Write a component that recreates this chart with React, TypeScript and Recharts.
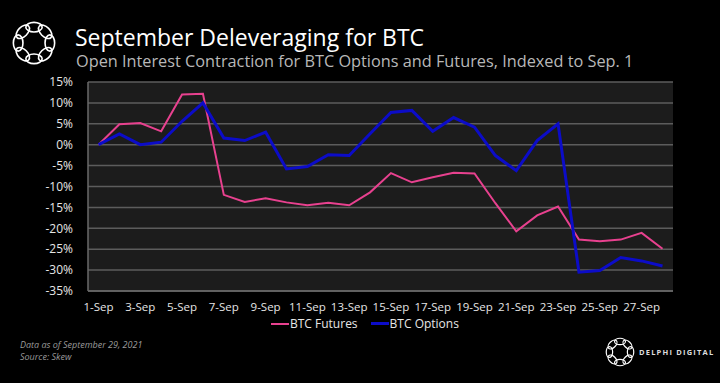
import React from 'react';
import {
  LineChart,
  Line,
  XAxis,
  YAxis,
  CartesianGrid,
} from 'recharts';

// 날짜 카테고리 (1-Sep ~ 28-Sep)
const days = [
  '1-Sep', '2-Sep', '3-Sep', '4-Sep', '5-Sep', '6-Sep', '7-Sep',
  '8-Sep', '9-Sep', '10-Sep', '11-Sep', '12-Sep', '13-Sep', '14-Sep',
  '15-Sep', '16-Sep', '17-Sep', '18-Sep', '19-Sep', '20-Sep', '21-Sep',
  '22-Sep', '23-Sep', '24-Sep', '25-Sep', '26-Sep', '27-Sep', '28-Sep',
];

const futures = [
  0, 4.9, 5.2, 3.2, 12.0, 12.2, -12.0,
  -13.7, -12.8, -13.8, -14.5, -13.9, -14.5, -11.4,
  -6.8, -9.0, -7.8, -6.7, -6.9, -14.0, -20.7,
  -16.9, -14.8, -22.7, -23.1, -22.7, -21.1, -24.9,
];

const options = [
  0, 2.6, 0, 0.6, 5.6, 10.0, 1.6,
  1.0, 3.0, -5.8, -5.2, -2.4, -2.6, 2.6,
  7.7, 8.2, 3.2, 6.5, 4.2, -2.6, -6.2,
  1.0, 5.0, -30.5, -30.1, -27.0, -27.8, -29.0,
];

const yTicks = [15, 10, 5, 0, -5, -10, -15, -20, -25, -30, -35];

const PINK = '#e8418f';
const BLUE = '#0c0cc8';
const FONT = '"Open Sans", Lato, sans-serif';

const data = days.map((d, i) => ({
  name: d,
  futures: futures[i],
  options: options[i],
}));

// 링 모양 로고
function RingLogo({ size, stroke }: { size: number; stroke: number }) {
  const c = size / 2;
  const r = size * 0.33;
  const items = [];
  for (let i = 0; i < 8; i++) {
    const a = (i * 360) / 8;
    const rad = (a * Math.PI) / 180;
    const x = c + r * Math.cos(rad);
    const y = c + r * Math.sin(rad);
    items.push(
      <ellipse
        key={i}
        cx={x}
        cy={y}
        rx={size * 0.17}
        ry={size * 0.1}
        transform={`rotate(${a + 90} ${x} ${y})`}
        fill="none"
        stroke="#fff"
        strokeWidth={stroke}
      />
    );
  }
  return (
    <svg width={size} height={size}>
      {items}
    </svg>
  );
}

const legendItems = [
  { label: 'BTC Futures', color: PINK, w: 2 },
  { label: 'BTC Options', color: BLUE, w: 3 },
];

const footStyle: React.CSSProperties = {
  position: 'absolute',
  left: 20,
  fontFamily: FONT,
  fontStyle: 'italic',
  fontSize: 9,
  lineHeight: '10px',
  color: '#9a9a9a',
  whiteSpace: 'nowrap',
};

export default function App() {
  return (
    <div
      style={{
        position: 'fixed',
        left: 0,
        top: 0,
        width: 720,
        height: 383,
        background: '#000',
        overflow: 'hidden',
      }}
    >
      {/* 헤더 */}
      <div style={{ position: 'absolute', left: 10, top: 19 }}>
        <RingLogo size={48} stroke={1.6} />
      </div>
      <div
        style={{
          position: 'absolute',
          left: 75,
          top: 21,
          fontFamily: FONT,
          fontSize: 23,
          color: '#fff',
          whiteSpace: 'nowrap',
        }}
      >
        September Deleveraging for BTC
      </div>
      <div
        style={{
          position: 'absolute',
          left: 76,
          top: 50,
          fontFamily: FONT,
          fontSize: 16.3,
          color: '#b8b8b8',
          whiteSpace: 'nowrap',
        }}
      >
        Open Interest Contraction for BTC Options and Futures, Indexed to Sep. 1
      </div>

      <LineChart
        width={720}
        height={383}
        data={data}
        margin={{ top: 82, right: 47, left: 0, bottom: 62 }}
      >
        <CartesianGrid
          vertical={false}
          stroke="#5c5c5c"
          strokeWidth={1.5}
          fill="#1c1c1c"
        />
        <XAxis
          dataKey="name"
          interval={1}
          padding={{ left: 10.5, right: 10.5 }}
          axisLine={{ stroke: '#6a6a6a', strokeWidth: 1.5 }}
          tickLine={false}
          tickMargin={6}
          tick={{ fill: '#e6e6e6', fontSize: 11.5, fontFamily: FONT }}
        />
        <YAxis
          width={88}
          domain={[-35, 15]}
          ticks={yTicks}
          interval={0}
          axisLine={{ stroke: '#6a6a6a', strokeWidth: 1.5 }}
          tickLine={false}
          tickMargin={9}
          tickFormatter={(v: number) => `${v}%`}
          tick={{ fill: '#e6e6e6', fontSize: 12, fontFamily: FONT }}
        />
        <YAxis
          yAxisId="r"
          orientation="right"
          width={0}
          domain={[-35, 15]}
          tick={false}
          tickLine={false}
          axisLine={{ stroke: '#6a6a6a', strokeWidth: 1.5 }}
        />
        <Line
          type="linear"
          dataKey="futures"
          name="BTC Futures"
          stroke={PINK}
          strokeWidth={2}
          dot={false}
          isAnimationActive={false}
        />
        <Line
          type="linear"
          dataKey="options"
          name="BTC Options"
          stroke={BLUE}
          strokeWidth={3}
          dot={false}
          isAnimationActive={false}
        />
      </LineChart>

      {/* 범례 */}
      <div
        style={{
          position: 'absolute',
          left: 271,
          top: 315,
          display: 'flex',
          fontFamily: FONT,
          fontSize: 12,
          color: '#e6e6e6',
        }}
      >
        {legendItems.map((it, i) => (
          <div
            key={it.label}
            style={{ display: 'flex', alignItems: 'center', marginRight: i === 0 ? 13 : 0 }}
          >
            <span
              style={{
                display: 'inline-block',
                width: 18,
                height: it.w,
                background: it.color,
                marginRight: 1,
              }}
            />
            <span>{it.label}</span>
          </div>
        ))}
      </div>

      {/* 푸터 */}
      <div style={{ ...footStyle, top: 340 }}>Data as of September 29, 2021</div>
      <div style={{ ...footStyle, top: 352 }}>Source: Skew</div>
      <div style={{ position: 'absolute', left: 604, top: 336 }}>
        <RingLogo size={32} stroke={1.2} />
      </div>
      <div
        style={{
          position: 'absolute',
          left: 639,
          top: 347,
          fontFamily: FONT,
          fontSize: 7.5,
          fontWeight: 700,
          letterSpacing: 1.2,
          color: '#ddd',
          whiteSpace: 'nowrap',
        }}
      >
        DELPHI DIGITAL
      </div>
    </div>
  );
}
